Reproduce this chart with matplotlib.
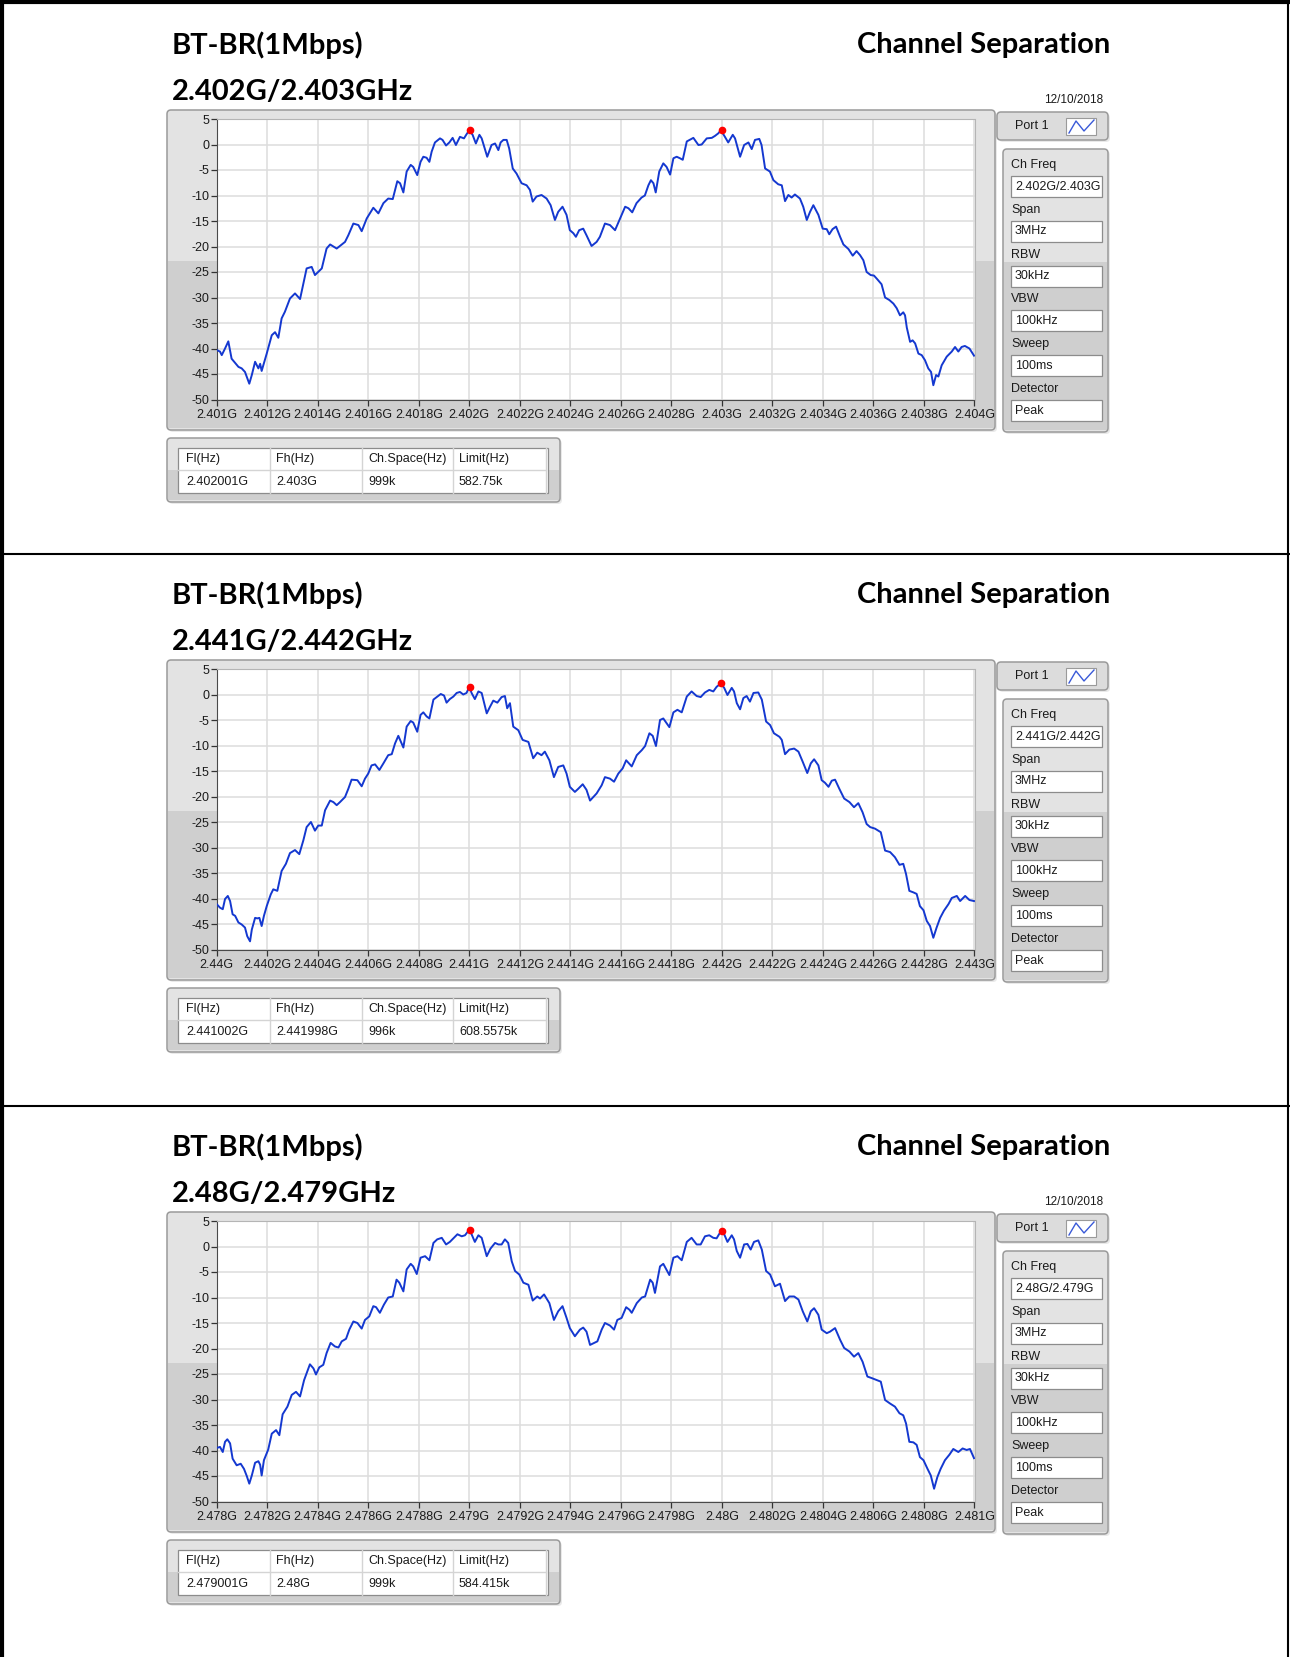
import numpy as np
import matplotlib
matplotlib.use('Agg')
import matplotlib.pyplot as plt
from matplotlib.patches import FancyBboxPatch, Rectangle
from matplotlib.ticker import FuncFormatter

W, H = 1290, 1657

# ---- data ----
standard = 'BT-BR(1Mbps)'
test_name = 'Channel Separation'
channels = ['2.402G/2.403GHz', '2.441G/2.442GHz', '2.48G/2.479GHz']
ch_freq = ['2.402G/2.403G', '2.441G/2.442G', '2.48G/2.479G']
dates = ['12/10/2018', '', '12/10/2018']
start_ghz = [2.401, 2.440, 2.478]
span_mhz = 3.0

setting_names = ['Ch Freq', 'Span', 'RBW', 'VBW', 'Sweep', 'Detector']
setting_values = ['3MHz', '30kHz', '100kHz', '100ms', 'Peak']

table_head = ['Fl(Hz)', 'Fh(Hz)', 'Ch.Space(Hz)', 'Limit(Hz)']
fl = ['2.402001G', '2.441002G', '2.479001G']
fh = ['2.403G', '2.441998G', '2.48G']
ch_space = ['999k', '996k', '999k']
limit = ['582.75k', '608.5575k', '584.415k']

# trace 1: offset from start (MHz), level (dB)
off1 = [0.000, 0.013, 0.020, 0.033, 0.046, 0.059, 0.086, 0.099, 0.112, 0.129, 0.139, 0.152,
        0.165, 0.172, 0.178, 0.198, 0.218, 0.231, 0.244, 0.257, 0.270, 0.290, 0.310, 0.330,
        0.356, 0.376, 0.389, 0.416, 0.435, 0.449, 0.475, 0.508, 0.521, 0.541, 0.561, 0.574,
        0.594, 0.620, 0.640, 0.660, 0.679, 0.697, 0.715, 0.726, 0.739, 0.752, 0.768, 0.778,
        0.794, 0.807, 0.818, 0.831, 0.842, 0.851, 0.864, 0.884, 0.894, 0.908, 0.921, 0.934,
        0.947, 0.963, 0.979, 0.989, 1.000, 1.013, 1.026, 1.040, 1.049, 1.071, 1.088, 1.102,
        1.115, 1.124, 1.135, 1.148, 1.158, 1.172, 1.187, 1.207, 1.227, 1.240, 1.251, 1.266,
        1.286, 1.306, 1.322, 1.339, 1.352, 1.369, 1.385, 1.398, 1.412, 1.422, 1.435, 1.451,
        1.464, 1.484, 1.504, 1.517, 1.537, 1.557, 1.577, 1.597, 1.617, 1.630, 1.645, 1.662,
        1.682, 1.695, 1.709, 1.719, 1.729, 1.738, 1.752, 1.768, 1.781, 1.795, 1.808, 1.821,
        1.834, 1.845, 1.861, 1.887, 1.907, 1.920, 1.940, 1.960, 1.973, 1.986, 1.996, 2.012,
        2.025, 2.043, 2.052, 2.072, 2.088, 2.105, 2.118, 2.131, 2.148, 2.157, 2.171, 2.190,
        2.204, 2.223, 2.237, 2.250, 2.263, 2.276, 2.289, 2.309, 2.322, 2.336, 2.349, 2.362,
        2.382, 2.399, 2.415, 2.425, 2.438, 2.452, 2.468, 2.481, 2.501, 2.518, 2.533, 2.547,
        2.560, 2.573, 2.589, 2.602, 2.613, 2.632, 2.646, 2.663, 2.679, 2.692, 2.705, 2.718,
        2.725, 2.732, 2.745, 2.755, 2.765, 2.778, 2.791, 2.804, 2.817, 2.828, 2.837, 2.848,
        2.857, 2.870, 2.890, 2.910, 2.923, 2.936, 2.949, 2.962, 2.980, 2.998]
lvl1 = [-40.3, -40.6, -41.3, -40.0, -38.6, -42.0, -43.6, -43.9, -44.6, -46.9, -45.2, -42.6,
        -43.9, -43.0, -44.4, -41.0, -37.4, -36.8, -37.9, -34.1, -32.8, -30.2, -29.2, -30.3,
        -24.3, -24.0, -25.6, -24.3, -20.4, -19.6, -20.4, -19.1, -17.8, -15.5, -15.8, -17.0,
        -14.5, -12.4, -13.5, -11.5, -10.6, -10.7, -7.2, -7.6, -9.4, -5.3, -4.0, -4.4,
        -6.0, -3.4, -2.4, -2.6, -3.4, -1.4, 0.4, 1.2, 0.9, -0.2, 0.4, 1.3,
        -0.1, 1.5, 1.2, 2.0, 2.8, 1.9, 0.2, 1.9, 1.2, -2.4, -0.1, 0.2,
        -1.1, 0.4, 0.9, 0.9, -0.8, -4.7, -5.7, -7.6, -8.0, -8.9, -11.2, -10.2,
        -9.9, -10.6, -11.9, -14.8, -13.2, -12.2, -13.8, -16.8, -17.4, -18.1, -16.8, -16.5,
        -17.8, -19.9, -19.1, -18.1, -15.5, -15.8, -16.8, -14.5, -12.2, -12.5, -13.3, -11.5,
        -10.4, -10.0, -8.0, -7.0, -7.6, -9.4, -5.3, -3.7, -4.4, -5.9, -2.7, -2.4,
        -2.7, -3.0, 0.6, 1.3, -0.1, 0.0, 1.2, 1.3, 1.7, 2.2, 2.8, 1.5,
        0.4, 1.9, 1.2, -2.4, -0.1, 0.4, -0.9, 0.9, 1.1, -0.1, -4.7, -5.3,
        -7.0, -7.8, -8.0, -11.1, -9.9, -10.4, -9.8, -10.6, -12.2, -14.8, -13.2, -11.9,
        -13.8, -16.5, -16.6, -17.6, -16.6, -16.1, -18.1, -19.6, -20.5, -21.8, -20.9, -21.7,
        -22.7, -25.0, -25.6, -25.7, -26.3, -27.4, -30.0, -30.5, -31.2, -32.1, -33.5, -32.9,
        -33.5, -35.9, -38.7, -38.4, -39.0, -41.0, -41.3, -42.3, -43.9, -44.6, -47.2, -45.2,
        -45.5, -43.3, -41.6, -40.6, -39.7, -40.6, -39.7, -39.5, -40.0, -41.4]

# trace 2
off2 = [0.000, 0.013, 0.024, 0.033, 0.044, 0.053, 0.063, 0.073, 0.086, 0.099, 0.112, 0.121,
        0.132, 0.139, 0.152, 0.161, 0.169, 0.178, 0.187, 0.198, 0.214, 0.224, 0.240, 0.257,
        0.274, 0.290, 0.310, 0.327, 0.343, 0.356, 0.373, 0.389, 0.402, 0.416, 0.429, 0.449,
        0.462, 0.475, 0.488, 0.508, 0.521, 0.534, 0.557, 0.574, 0.587, 0.600, 0.613, 0.627,
        0.644, 0.660, 0.679, 0.693, 0.706, 0.719, 0.739, 0.752, 0.768, 0.778, 0.794, 0.807,
        0.818, 0.831, 0.842, 0.858, 0.871, 0.887, 0.900, 0.910, 0.923, 0.937, 0.950, 0.963,
        0.976, 0.989, 1.000, 1.009, 1.022, 1.036, 1.049, 1.069, 1.082, 1.095, 1.111, 1.128,
        1.141, 1.150, 1.161, 1.174, 1.194, 1.211, 1.234, 1.253, 1.269, 1.286, 1.299, 1.317,
        1.335, 1.352, 1.372, 1.385, 1.398, 1.418, 1.431, 1.449, 1.464, 1.478, 1.504, 1.524,
        1.537, 1.557, 1.573, 1.590, 1.607, 1.621, 1.643, 1.663, 1.683, 1.696, 1.713, 1.726,
        1.739, 1.755, 1.768, 1.792, 1.808, 1.824, 1.841, 1.861, 1.880, 1.900, 1.916, 1.933,
        1.950, 1.966, 1.979, 1.996, 2.009, 2.022, 2.039, 2.048, 2.059, 2.072, 2.085, 2.098,
        2.111, 2.125, 2.144, 2.158, 2.175, 2.191, 2.206, 2.228, 2.237, 2.250, 2.267, 2.286,
        2.303, 2.320, 2.338, 2.352, 2.365, 2.382, 2.395, 2.408, 2.422, 2.435, 2.448, 2.465,
        2.484, 2.505, 2.523, 2.540, 2.557, 2.573, 2.587, 2.606, 2.629, 2.646, 2.666, 2.685,
        2.703, 2.718, 2.729, 2.742, 2.758, 2.771, 2.784, 2.798, 2.811, 2.824, 2.837, 2.850,
        2.864, 2.879, 2.897, 2.910, 2.930, 2.943, 2.963, 2.980, 2.998]
lvl2 = [-41.1, -41.8, -42.1, -40.1, -39.5, -40.5, -43.1, -43.4, -44.7, -45.1, -45.7, -47.4,
        -48.4, -46.1, -43.8, -43.9, -43.8, -45.4, -43.4, -41.5, -39.2, -38.2, -38.5, -34.6,
        -33.2, -31.1, -30.5, -31.3, -28.6, -26.0, -25.0, -26.7, -25.7, -25.7, -22.7, -20.8,
        -21.1, -21.7, -21.1, -20.1, -18.5, -16.7, -16.8, -18.0, -16.5, -15.5, -13.9, -13.7,
        -14.8, -13.5, -11.9, -11.7, -9.6, -8.1, -10.4, -6.3, -5.2, -5.5, -7.3, -4.0,
        -3.5, -4.3, -4.7, -1.0, -0.5, 0.1, -0.2, -1.6, -0.9, -0.4, 0.3, 0.5,
        0.0, 0.3, 1.5, 0.3, -0.9, 0.6, 0.3, -3.7, -2.4, -1.2, -1.6, -0.5,
        -0.3, -2.7, -1.7, -6.3, -7.0, -8.9, -9.3, -12.5, -11.4, -11.9, -11.2, -12.9,
        -16.2, -14.2, -13.9, -15.5, -18.1, -19.1, -18.5, -17.6, -18.7, -20.8, -19.4, -17.8,
        -16.2, -16.5, -17.1, -15.5, -14.5, -12.9, -14.1, -11.9, -10.9, -10.1, -7.6, -8.1,
        -10.1, -5.0, -4.7, -6.4, -3.5, -3.0, -3.5, -0.4, 0.6, -0.3, -0.5, 0.4,
        0.9, 0.6, 1.5, 2.2, 1.3, -0.1, 1.3, 0.6, -1.7, -2.9, -0.7, -0.3,
        -1.4, 0.3, 0.4, -1.0, -5.3, -6.0, -7.6, -8.3, -8.9, -11.7, -10.8, -10.6,
        -11.2, -13.2, -15.4, -13.5, -12.7, -13.9, -16.8, -17.3, -18.1, -16.9, -16.7, -18.5,
        -20.4, -21.1, -22.1, -21.3, -23.1, -25.4, -26.0, -26.3, -27.0, -30.6, -30.9, -31.9,
        -33.4, -33.2, -35.2, -38.5, -38.8, -39.1, -41.5, -42.3, -44.4, -45.4, -47.7, -45.7,
        -43.8, -42.4, -41.1, -39.9, -39.5, -40.5, -39.5, -40.3, -40.5]

# trace 3
off3 = [0.000, 0.013, 0.024, 0.033, 0.042, 0.053, 0.063, 0.079, 0.095, 0.108, 0.119, 0.129,
        0.139, 0.152, 0.165, 0.172, 0.178, 0.187, 0.204, 0.218, 0.235, 0.248, 0.261, 0.280,
        0.297, 0.314, 0.330, 0.346, 0.369, 0.383, 0.393, 0.406, 0.422, 0.435, 0.451, 0.468,
        0.482, 0.495, 0.512, 0.525, 0.541, 0.557, 0.574, 0.587, 0.604, 0.620, 0.631, 0.646,
        0.662, 0.679, 0.697, 0.712, 0.723, 0.739, 0.752, 0.768, 0.778, 0.792, 0.807, 0.825,
        0.842, 0.858, 0.873, 0.891, 0.908, 0.923, 0.939, 0.953, 0.970, 0.983, 1.000, 1.009,
        1.022, 1.036, 1.049, 1.069, 1.084, 1.102, 1.115, 1.128, 1.141, 1.154, 1.168, 1.181,
        1.198, 1.214, 1.234, 1.251, 1.269, 1.280, 1.296, 1.317, 1.335, 1.352, 1.369, 1.385,
        1.398, 1.418, 1.438, 1.451, 1.464, 1.478, 1.507, 1.524, 1.537, 1.557, 1.573, 1.586,
        1.603, 1.621, 1.634, 1.643, 1.663, 1.683, 1.696, 1.716, 1.726, 1.735, 1.755, 1.768,
        1.792, 1.808, 1.824, 1.841, 1.861, 1.880, 1.900, 1.916, 1.933, 1.950, 1.966, 1.979,
        1.996, 2.009, 2.022, 2.039, 2.048, 2.059, 2.072, 2.088, 2.101, 2.114, 2.127, 2.144,
        2.158, 2.175, 2.191, 2.210, 2.230, 2.250, 2.267, 2.286, 2.303, 2.320, 2.338, 2.352,
        2.365, 2.382, 2.395, 2.415, 2.428, 2.448, 2.468, 2.484, 2.505, 2.523, 2.540, 2.557,
        2.576, 2.593, 2.613, 2.629, 2.646, 2.666, 2.685, 2.703, 2.718, 2.729, 2.742, 2.758,
        2.771, 2.784, 2.798, 2.814, 2.827, 2.840, 2.853, 2.866, 2.883, 2.901, 2.916, 2.936,
        2.953, 2.969, 2.982, 2.998]
lvl3 = [-39.5, -39.3, -40.3, -38.3, -37.8, -38.6, -41.6, -42.9, -42.6, -43.6, -45.0, -46.5,
        -44.9, -42.4, -42.1, -42.8, -44.9, -41.9, -39.8, -36.7, -36.0, -37.0, -32.9, -31.4,
        -29.1, -28.5, -29.4, -26.2, -23.1, -23.9, -25.1, -23.7, -23.2, -20.9, -18.9, -19.6,
        -19.8, -18.6, -18.1, -16.3, -14.7, -15.0, -16.1, -14.4, -13.7, -11.7, -11.9, -13.0,
        -11.4, -10.0, -9.8, -6.5, -7.1, -8.8, -4.5, -3.4, -3.9, -5.4, -2.2, -1.9,
        -2.7, 0.7, 1.4, 1.7, 0.4, 0.9, 1.7, 2.4, 2.0, 2.2, 3.3, 2.4,
        0.9, 2.2, 1.7, -1.9, -0.4, 0.7, 0.4, 0.4, 1.4, 0.7, -2.9, -4.8,
        -5.5, -7.1, -7.5, -10.6, -9.8, -10.2, -9.4, -11.1, -14.4, -12.7, -11.7, -14.0,
        -16.0, -17.6, -16.3, -15.9, -16.7, -19.3, -18.6, -16.3, -15.0, -15.5, -16.3, -14.4,
        -14.0, -11.9, -12.4, -13.0, -11.1, -10.0, -9.8, -6.5, -7.1, -9.1, -3.9, -3.4,
        -5.6, -2.2, -1.9, -2.7, 0.9, 1.7, 0.4, 0.4, 2.0, 2.2, 1.7, 1.6,
        3.0, 2.4, 0.9, 2.2, 1.4, -0.9, -2.2, 0.4, 0.5, -0.6, 0.9, 1.2,
        -0.6, -4.8, -5.5, -7.8, -7.3, -10.7, -9.8, -9.8, -10.4, -12.7, -14.7, -12.7,
        -12.1, -13.4, -16.3, -17.0, -16.7, -16.0, -18.3, -19.9, -20.6, -21.6, -20.9, -22.6,
        -25.5, -25.8, -26.2, -26.5, -30.1, -30.8, -31.4, -32.7, -33.1, -34.7, -38.3, -38.4,
        -38.9, -41.3, -41.9, -43.6, -44.9, -47.5, -45.2, -43.6, -41.9, -40.8, -39.7, -40.3,
        -39.6, -39.9, -39.7, -41.5]

offsets = [off1, off2, off3]
levels = [lvl1, lvl2, lvl3]
marker_off = [[1.001, 2.000], [1.002, 1.998], [1.001, 2.000]]
marker_lvl = [[2.8, 2.8], [1.5, 2.2], [3.3, 3.0]]

plt.rcParams['font.family'] = ['Liberation Sans', 'DejaVu Sans']
plt.rcParams['axes.unicode_minus'] = False

TEXT = '#1a1a1a'
TICK_FONT = ['Liberation Sans Narrow', 'Liberation Sans', 'DejaVu Sans']
HEAD_FONT = ['Lato', 'DejaVu Sans']


def fig_rect(x0, y0, x1, y1):
    return [x0 / W, 1 - y1 / H, (x1 - x0) / W, (y1 - y0) / H]


def panel(bg, x0, y0, x1, y1, split=None, light='#e3e3e3', dark='#cfcfcf'):
    box = dict(boxstyle='round,pad=0,rounding_size=4')
    bg.add_patch(FancyBboxPatch((x0 + 2, y0 + 2), x1 - x0, y1 - y0, fc='#e9e9e9', ec='none', zorder=1, **box))
    bg.add_patch(FancyBboxPatch((x0, y0), x1 - x0, y1 - y0, fc=light, ec='none', zorder=2, **box))
    if split is not None:
        bg.add_patch(Rectangle((x0 + 1, split), x1 - x0 - 2, y1 - split - 2, fc=dark, ec='none', zorder=2))
    bg.add_patch(FancyBboxPatch((x0, y0), x1 - x0, y1 - y0, fc='none', ec='#9a9a9a', lw=1.1, zorder=3, **box))


def field(bg, x0, y0, x1, y1, text):
    bg.add_patch(Rectangle((x0, y0), x1 - x0, y1 - y0, fc='white', ec='#8c8c8c', lw=0.9, zorder=4))
    bg.text(x0 + 4, (y0 + y1) / 2, text, ha='left', va='center', fontsize=9, color=TEXT, zorder=5)


def ghz_label(v, pos):
    return f'{v:.4f}'.rstrip('0').rstrip('.') + 'G'


fig = plt.figure(figsize=(W / 100, H / 100), dpi=100)
fig.patch.set_facecolor('white')
bg = fig.add_axes([0, 0, 1, 1])
bg.set_xlim(0, W)
bg.set_ylim(H, 0)
bg.axis('off')

# outer page border and section separators
bg.plot([2, 2], [0, H], color='black', lw=3, zorder=6)
bg.plot([0, W], [2, 2], color='black', lw=3, zorder=6)
bg.plot([W - 2, W - 2], [0, H], color='black', lw=1.5, zorder=6)
for ysep in [553.5, 1106]:
    bg.plot([0, W], [ysep, ysep], color='black', lw=1.5, zorder=6)

for i, dy in enumerate([0, 550, 1102]):
    start = start_ghz[i]

    bg.text(172, 45 + dy, standard, ha='left', va='center', fontsize=21,
            fontweight='bold', family=HEAD_FONT, color='black')
    bg.text(172, 92 + dy, channels[i], ha='left', va='center', fontsize=21,
            fontweight='bold', family=HEAD_FONT, color='black')
    bg.text(1110, 45 + dy, test_name, ha='right', va='center', fontsize=21,
            fontweight='bold', family=HEAD_FONT, color='black')
    if dates[i]:
        bg.text(1103, 100 + dy, dates[i], ha='right', va='center', fontsize=8.5, color=TEXT)

    # graph frame
    panel(bg, 167, 110 + dy, 995, 430 + dy, split=261 + dy)

    # port selector
    panel(bg, 997, 112 + dy, 1108, 140 + dy, light='#dcdcdc')
    bg.text(1015, 126 + dy, 'Port 1', ha='left', va='center', fontsize=9, color=TEXT, zorder=5)
    bg.add_patch(Rectangle((1066, 118 + dy), 30, 17, fc='white', ec='#9a9a9a', lw=0.8, zorder=4))
    bg.plot([1069, 1076, 1084, 1094], [133 + dy, 121 + dy, 131 + dy, 120 + dy],
            color='#3a5ad8', lw=1.0, zorder=5)

    # settings panel
    panel(bg, 1003, 149 + dy, 1108, 432 + dy, split=262 + dy)
    values = [ch_freq[i]] + setting_values
    for k, (name, val) in enumerate(zip(setting_names, values)):
        ly = 165 + dy + k * 44.8
        bg.text(1011, ly, name, ha='left', va='center', fontsize=9, color=TEXT, zorder=5)
        field(bg, 1011, ly + 11, 1102, ly + 32, val)

    # results table
    panel(bg, 167, 438 + dy, 560, 502 + dy, split=470 + dy)
    bg.add_patch(Rectangle((178, 448 + dy), 370, 45, fc='white', ec='#8c8c8c', lw=0.9, zorder=4))
    bg.plot([178, 546], [470 + dy, 470 + dy], color='#d4d4d4', lw=1, zorder=5)
    for xc in [270, 362, 453, 546]:
        bg.plot([xc, xc], [448 + dy, 493 + dy], color='#d4d4d4', lw=1, zorder=5)
    row = [fl[i], fh[i], ch_space[i], limit[i]]
    for xc, head, val in zip([186, 276, 368, 459], table_head, row):
        bg.text(xc, 459 + dy, head, ha='left', va='center', fontsize=9, color=TEXT, zorder=6)
        bg.text(xc, 482 + dy, val, ha='left', va='center', fontsize=9, color=TEXT, zorder=6)

    # spectrum plot
    ax = fig.add_axes(fig_rect(216.7, 119 + dy, 974.5, 399.5 + dy))
    ax.set_facecolor('white')
    x = start + np.array(offsets[i]) / 1000
    ax.plot(x, levels[i], color='#1438d0', lw=1.4, zorder=3)
    ax.plot(start + np.array(marker_off[i]) / 1000, marker_lvl[i], 'o', color='#ff0000',
            ms=4.5, zorder=4, clip_on=False)
    stop = start + span_mhz / 1000
    ax.set_xlim(start, stop)
    ax.set_ylim(-50, 5)
    ax.set_xticks(np.linspace(start, stop, 16))
    ax.set_yticks(np.arange(-50, 6, 5))
    ax.xaxis.set_major_formatter(FuncFormatter(ghz_label))
    ax.grid(True, color='#dddddd', lw=1.1, zorder=0)
    ax.set_axisbelow(True)
    for side in ['left', 'bottom']:
        ax.spines[side].set_color('#4a4a4a')
        ax.spines[side].set_linewidth(0.8)
    for side in ['top', 'right']:
        ax.spines[side].set_color('#b5b5b5')
        ax.spines[side].set_linewidth(0.8)
    ax.tick_params(axis='both', direction='out', length=4, width=0.9, color='#333333',
                   labelsize=9, labelcolor=TEXT, labelfontfamily=TICK_FONT)
    ax.tick_params(axis='x', pad=3)
    ax.tick_params(axis='y', pad=1.5)

fig.savefig('out.png', dpi=100)
